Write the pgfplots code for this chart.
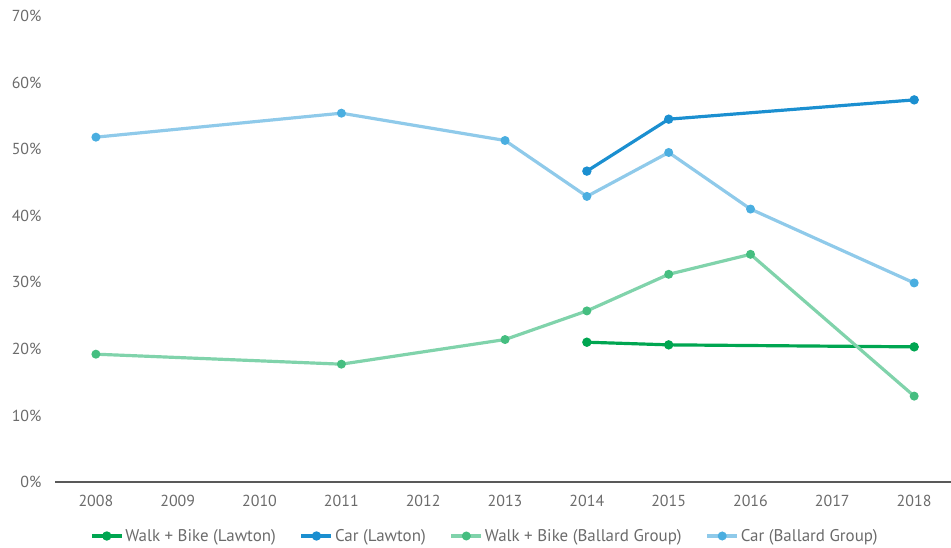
\documentclass[border=0pt]{standalone}
\usepackage{pgfplots}
\pgfplotsset{compat=1.18}
\usepackage{fontspec}
\setmainfont{PT Sans}
\definecolor{txt}{HTML}{6B6B6B}
\definecolor{axl}{HTML}{595959}
\definecolor{wl}{HTML}{00A651}
\definecolor{cl}{HTML}{1B8FD0}
\definecolor{wb}{HTML}{80D3AB}
\definecolor{wbm}{HTML}{45BE80}
\definecolor{cb}{HTML}{8FCAEA}
\definecolor{cbm}{HTML}{4AAEE0}
\begin{document}
\begin{tikzpicture}
\useasboundingbox (0,0) rectangle (951bp,548bp);
\begin{axis}[
  at={(55bp,66bp)}, anchor=south west,
  scale only axis, width=896bp, height=466bp,
  xmin=2007.5, xmax=2018.45, ymin=0, ymax=70,
  xtick={2008,...,2018},
  ytick={0,10,...,70},
  yticklabel={\pgfmathprintnumber{\tick}\%},
  xticklabel style={/pgf/number format/1000 sep={}},
  /pgf/number format/assume math mode=true,
  axis x line*=bottom, axis y line*=left,
  x axis line style={axl, line width=1.2pt, -},
  y axis line style={draw=none},
  major tick length=0pt,
  tick label style={font=\fontsize{16}{18}\selectfont, text=txt},
  xticklabel style={yshift=-10bp},
  yticklabel style={xshift=-10bp},
  legend columns=4,
  legend style={at={(35bp,-54bp)}, anchor=west, draw=none, fill=none,
    font=\fontsize{17}{19}\selectfont, text=txt,
    /tikz/every even column/.style={column sep=22bp},
    inner sep=0pt},
  legend cell align=left,
  legend image code/.code={\draw[mark repeat=2,mark phase=2] plot coordinates {(0bp,0bp)(15bp,0bp)(30bp,0bp)};},
]
\addplot[wl, line width=3.2pt, mark=*, mark size=3bp, mark options={fill=wl, draw=wl}] coordinates {
(2014,21.0) (2015,20.6) (2018,20.3)};
\addlegendentry{Walk + Bike (Lawton)}
\addplot[cl, line width=3.2pt, mark=*, mark size=3bp, mark options={fill=cl, draw=cl}] coordinates {
(2014,46.7) (2015,54.5) (2018,57.4)};
\addlegendentry{Car (Lawton)}
\addplot[wb, line width=3.2pt, mark=*, mark size=2.8bp, mark options={fill=wbm, draw=wbm}] coordinates {
(2008,19.2) (2011,17.7) (2013,21.4) (2014,25.7) (2015,31.2) (2016,34.2) (2018,12.9)};
\addlegendentry{Walk + Bike (Ballard Group)}
\addplot[cb, line width=3.2pt, mark=*, mark size=2.8bp, mark options={fill=cbm, draw=cbm}] coordinates {
(2008,51.8) (2011,55.4) (2013,51.3) (2014,42.9) (2015,49.5) (2016,41.0) (2018,29.9)};
\addlegendentry{Car (Ballard Group)}
\end{axis}
\end{tikzpicture}
\end{document}
